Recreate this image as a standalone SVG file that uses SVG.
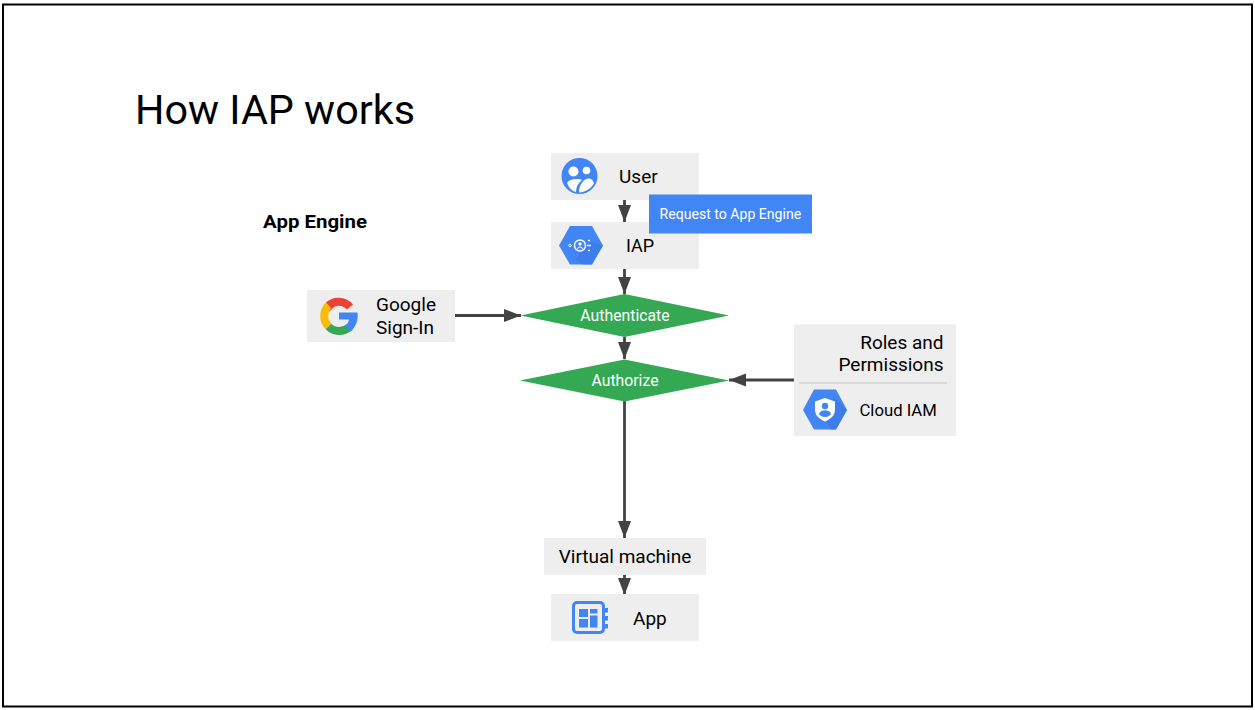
<svg xmlns="http://www.w3.org/2000/svg" width="1255" height="710" viewBox="0 0 1255 710">
<style>
text{font-family:Roboto,"Liberation Sans",sans-serif;fill:#000}
.box{fill:#eeeeee}
.lbl{font-size:19px}
.dia{fill:#34a853}
.w{fill:#fff;font-size:15.800px}
.c{stroke:#434343;stroke-width:2.800;fill:none;marker-end:url(#a)}
.blue{fill:#4285f4}
.g{fill:none;stroke-width:8}
</style>
<defs>
<marker id="a" markerUnits="userSpaceOnUse" markerWidth="18" markerHeight="14" refX="17" refY="6.500" orient="auto"><path d="M0 0L17 6.500L0 13Z" fill="#434343"/></marker>
</defs>
<rect width="1255" height="710" fill="#fff"/>
<rect x="3" y="4.500" width="1249" height="702" fill="none" stroke="#000" stroke-width="2"/>
<text x="135" y="124" font-size="41.300" id="title">How IAP works</text>
<text x="263" y="228" font-size="19" font-weight="700" textLength="104" lengthAdjust="spacingAndGlyphs" id="subtitle">App Engine</text>
<g id="connectors">
<path class="c" d="M624.500 199V222"/>
<path class="c" d="M624.500 269V294"/>
<path class="c" d="M455 315.500H521"/>
<path class="c" d="M624.500 337V359"/>
<path class="c" d="M794 380H729"/>
<path class="c" d="M624.500 401V538"/>
<path class="c" d="M624.500 575V595"/>
</g>
<g id="user">
<rect class="box" x="551" y="153" width="148" height="47"/>
<circle class="blue" cx="579.500" cy="176" r="18"/>
<circle cx="573.500" cy="171.500" r="5" fill="#fff"/><circle cx="586.500" cy="170.500" r="3.800" fill="#fff"/>
<path d="M567 183C569 179 578 178 582 180C578 183 576 187 576 192C572 191 569 188 567 183ZM579 192.500C579 186 583 179 588 178.500C591 178 593 180 594 183C592 188 586 192 579 192.500Z" fill="#fff"/>
<text class="lbl" x="619" y="183">User</text>
</g>
<g id="iap">
<rect class="box" x="551" y="222" width="148" height="47"/>
<path class="blue" d="M559 245.500L570 226H592L603 245.500L592 264.500H570Z"/>
<path d="M576 259L588 241L603 245.500L592 264.500H582Z" fill="#3b78e7" opacity=".7"/>
<circle cx="580" cy="245.500" r="5.500" fill="none" stroke="#fff" stroke-width="1.400"/><circle cx="580" cy="244" r="1.700" fill="#fff"/><path d="M577 248.500Q580 245.500 583 248.500" stroke="#fff" fill="none"/>
<circle cx="570" cy="245.500" r="1.200" fill="none" stroke="#fff"/>
<path d="M587 245.500H591M588 240.500H590M588 250.500H590" stroke="#fff" stroke-width="1.400"/>
<text x="626" y="252" font-size="18">IAP</text>
</g>
<g id="tooltip">
<rect x="649" y="194.500" width="163" height="39" fill="#4285f4"/>
<text x="659.500" y="219" font-size="14.100" style="fill:#fff">Request to App Engine</text>
</g>
<g id="google">
<rect class="box" x="307" y="290" width="148" height="52"/>
<path class="g" stroke="#ea4335" d="M350 307A15 15 0 0 0 328.500 305.500"/>
<path class="g" stroke="#ea4335" d="M329 306L332 309"/>
<path class="g" stroke="#fbbc05" d="M328.500 305.500A15 15 0 0 0 328.500 326.500"/>
<path class="g" stroke="#34a853" d="M328.500 326.500A15 15 0 0 0 349.500 327"/>
<path d="M339 312.500H357.500C358.500 320 356 327 350.500 331.500L345 325.500C347 324.500 348.500 322.500 349 319.500H339Z" fill="#4285f4"/>
<text class="lbl" x="376" y="311">Google</text>
<text class="lbl" x="376" y="334">Sign-In</text>
</g>
<g id="authenticate">
<path class="dia" d="M520.500 315.500L624.500 294L729 315.500L624.500 337Z"/>
<text class="w" x="625" y="320.500" text-anchor="middle">Authenticate</text>
</g>
<g id="authorize">
<path class="dia" d="M520 380.500L624.500 359.500L729 380.500L624.500 401.500Z"/>
<text class="w" x="625" y="385.500" text-anchor="middle">Authorize</text>
</g>
<g id="iam">
<rect class="box" x="794" y="324.500" width="162" height="111.500"/>
<path d="M799 383H947" stroke="#d9d9d9" stroke-width="2"/>
<text class="lbl" x="943.500" y="349" text-anchor="end">Roles and</text>
<text class="lbl" x="943.500" y="371" text-anchor="end">Permissions</text>
<path class="blue" d="M803 410L814 389.500H836L847 410L836 429.500H814Z"/>
<path d="M825 419L834 397L847 410L836 429.500H831Z" fill="#3b78e7" opacity=".7"/>
<path d="M825 398L835 401.500V410C835 415 831 419 825 421.500C819 419 815 415 815 410V401.500Z" fill="#fff"/>
<circle cx="825" cy="406" r="3.200" fill="#4285f4"/>
<path d="M819 414C820 409 830 409 831 414C829 418 821 418 819 414Z" fill="#4285f4"/>
<text x="859.500" y="415.500" font-size="16.700">Cloud IAM</text>
</g>
<g id="vm">
<rect class="box" x="544" y="538" width="162" height="37"/>
<text class="lbl" x="625" y="562.500" text-anchor="middle">Virtual machine</text>
</g>
<g id="app">
<rect class="box" x="551" y="594" width="148" height="47"/>
<rect x="573.500" y="602.500" width="30" height="30" rx="3.500" fill="none" stroke="#4285f4" stroke-width="3"/>
<path d="M604 608h4v4.500h-4zM604 616h4v4.500h-4zM604 624h4v4.500h-4z" class="blue"/>
<path class="blue" d="M579 609h9v8h-9zM590 609h7.500v4.500h-7.500zM579 619h9v8.500h-9zM590 615.500h7.500v12h-7.500z"/>
<text class="lbl" x="633" y="625">App</text>
</g>
</svg>
